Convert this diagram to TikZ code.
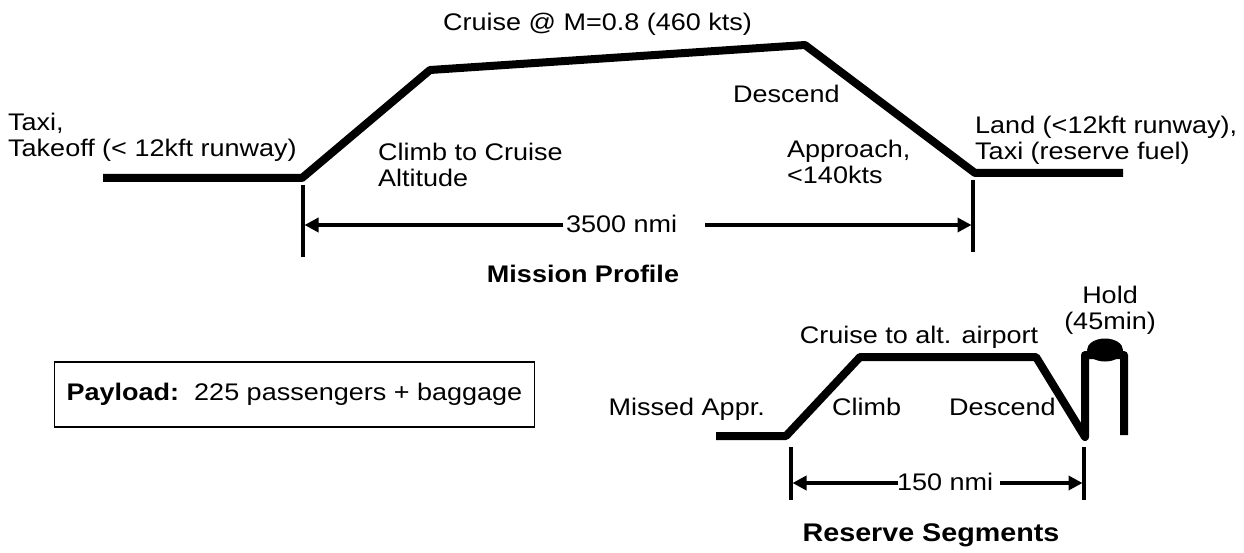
\documentclass[tikz,border=0pt]{standalone}
\usepackage{fontspec}
\setmainfont[FakeStretch=1.125]{Liberation Sans}
\usetikzlibrary{arrows.meta,shapes.geometric}
\begin{document}
\begin{tikzpicture}[x=1pt,y=-1pt,
  flight/.style={line width=8pt, line join=round},
  tick/.style={line width=3.5pt},
  dimarrow/.style={line width=4pt, -{Triangle[length=14pt,width=14pt]}, shorten >=1.5pt},
  lbl/.style={font=\fontsize{24}{26}\selectfont, inner sep=0pt, align=left},
  ttl/.style={font=\bfseries\fontsize{24}{26}\selectfont, inner sep=0pt}]
\useasboundingbox[fill=white] (0,0) rectangle (1244,553);

% ---------- mission profile ----------
\coordinate (m1) at (103,178);
\coordinate (m2) at (302,178);
\coordinate (m3) at (430,70);
\coordinate (m4) at (805,45);
\coordinate (m5) at (975,173);
\coordinate (m6) at (1123,173);
\draw[flight] (m1) -- (m2) -- (m3) -- (m4) -- (m5) -- (m6);

\coordinate (t1a) at (303,185); \coordinate (t1b) at (303,257);
\coordinate (t2a) at (973,180); \coordinate (t2b) at (973,252);
\draw[tick] (t1a) -- (t1b);
\draw[tick] (t2a) -- (t2b);
\coordinate (t1m) at (303,225); \coordinate (t2m) at (973,225);
\node[lbl, anchor=base west] (dist) at (566,233) {3500 nmi};
\coordinate (d1) at (563,225); \coordinate (d2) at (705,225);
\draw[dimarrow] (d1) -- (t1m);
\draw[dimarrow] (d2) -- (t2m);

\node[lbl, anchor=base west] (cruise) at (443,31) {Cruise @ M=0.8 (460 kts)};
\node[lbl, anchor=base west] (desc) at (733,103) {Descend};
\node[lbl, anchor=base west] (taxi) at (8,157) {Taxi,\\Takeoff (< 12kft runway)};
\node[lbl, anchor=base west] (climb) at (378,187) {Climb to Cruise\\Altitude};
\node[lbl, anchor=base west] (appr) at (787,184) {Approach,\\<140kts};
\node[lbl, anchor=base west] (land) at (975,160) {Land (<12kft runway),\\Taxi (reserve fuel)};
\node[ttl, anchor=base] (mp) at (583,283) {Mission Profile};

% ---------- payload ----------
\node[lbl, draw, line width=1.5pt, inner xsep=12pt, minimum height=65pt, anchor=east] (payload) at (535,394.5) {\textbf{Payload:}\ \ 225 passengers + baggage};

% ---------- reserve segments ----------
\coordinate (r1) at (716,436);
\coordinate (r2) at (786,436);
\coordinate (r3) at (860,357);
\coordinate (r4) at (1036,357);
\coordinate (r5) at (1085,437);
\coordinate (r6) at (1085,355);
\coordinate (r7) at (1124,355);
\coordinate (r8) at (1124,435);
\draw[flight] (r1) -- (r2) -- (r3) -- (r4) -- (r5) -- (r6) -- (r7) -- (r8);
\node[ellipse, fill=black, minimum width=36pt, minimum height=23pt, inner sep=0pt] (cap) at (1105,350) {};

\coordinate (s1a) at (791,447); \coordinate (s1b) at (791,500);
\coordinate (s2a) at (1084,447); \coordinate (s2b) at (1084,500);
\draw[tick] (s1a) -- (s1b);
\draw[tick] (s2a) -- (s2b);
\coordinate (s1m) at (791,483); \coordinate (s2m) at (1084,483);
\node[lbl, anchor=base west] (rdist) at (897,490) {150 nmi};
\coordinate (e1) at (898,483); \coordinate (e2) at (1000,483);
\draw[dimarrow] (e1) -- (s1m);
\draw[dimarrow] (e2) -- (s2m);

\node[lbl, anchor=base east] (missed) at (765,415) {Missed Appr.};
\node[lbl, anchor=base west] (rclimb) at (832,415) {Climb};
\node[lbl, anchor=base west] (rdesc) at (949,415) {Descend};
\node[lbl, anchor=base] (rcruise) at (919,343) {Cruise to alt. airport};
\node[lbl, anchor=base, align=center] (hold) at (1110,329) {Hold\\(45min)};
\node[ttl, anchor=base, font=\bfseries\fontsize{25.5}{28}\selectfont] (rs) at (931,541) {Reserve Segments};
\end{tikzpicture}
\end{document}
